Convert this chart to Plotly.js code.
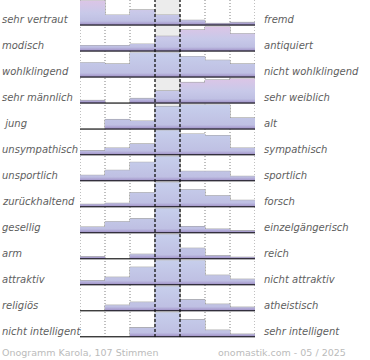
<!DOCTYPE html>
<html>
<head>
<meta charset="utf-8">
<script src="https://cdn.plot.ly/plotly-3.0.1.min.js"></script>
<style>html,body{margin:0;padding:0;background:#fff}#chart{width:370px;height:360px}</style>
</head>
<body>
<div id="chart"></div>
<script>
// Left / right poles of each semantic differential row
const leftLabels = ["sehr vertraut","modisch","wohlklingend","sehr männlich","\u00a0jung","unsympathisch","unsportlich","zurückhaltend","gesellig","arm","attraktiv","religiös","nicht intelligent"];
const rightLabels = ["fremd","antiquiert","nicht wohlklingend","sehr weiblich","alt","sympathisch","sportlich","forsch","einzelgängerisch","reich","nicht attraktiv","atheistisch","sehr intelligent"];
// Vote distribution over the 7 scale steps (relative heights)
const row01 = [24, 10, 15, 10, 5, 2, 3];
const row02 = [6, 6, 7.5, 15.5, 22, 25.5, 18];
const row03 = [14, 13, 24, 24, 20, 16.5, 13];
const row04 = [3, 0, 5, 12.5, 21, 23.5, 25];
const row05 = [0, 9.5, 8, 22, 24, 24, 11];
const row06 = [4.5, 7, 11, 24, 20.5, 19, 7];
const row07 = [6, 11, 19, 25, 10, 10, 5];
const row08 = [3, 4, 14.5, 25, 17.5, 11.5, 7];
const row09 = [6, 11, 14, 24, 6.5, 4, 2.5];
const row10 = [2.5, 0, 5, 25, 11, 3.5, 2];
const row11 = [4.5, 8, 18, 25, 25, 10, 6];
const row12 = [0, 6, 9, 25, 11.5, 7, 4];
const row13 = [0, 0, 9.5, 25, 17.5, 7, 3];
const rows = [row01,row02,row03,row04,row05,row06,row07,row08,row09,row10,row11,row12,row13];
const pinkRows = [0, 1, 3];
const footerLeft = "Onogramm Karola, 107 Stimmen";
const footerRight = "onomastik.com - 05 / 2025";

const W = 370, H = 360;
const mL = 80, mR = 115, mT = 0, mB = 22;
const plotW = W - mL - mR, plotH = H - mT - mB;
const pitch = 25.97, firstBase = 25.5, rowH = 25;

const blueScale = [[0,'#8e80b8'],[0.07,'#a99ecf'],[0.18,'#bfc0e3'],[1,'#c7cfec']];
const pinkScale = [[0,'#8e80b8'],[0.07,'#a99ecf'],[0.18,'#bfc0e3'],[0.5,'#c8c9e9'],[1,'#dcc5e6']];

const traces = [];
const shapes = [];
const annotations = [];
const layout = {
  width: W, height: H,
  margin: {l: mL, r: mR, t: mT, b: mB, pad: 0},
  paper_bgcolor: '#fff', plot_bgcolor: 'rgba(0,0,0,0)',
  showlegend: false,
  font: {family: 'DejaVu Sans', size: 10, color: '#5e5e5e'},
  xaxis: {range: [0, 7], showgrid: false, zeroline: false, showticklabels: false, ticks: '', showline: false, fixedrange: true, anchor: 'y13'}
};

const steps = row01.map((_, i) => i);

rows.forEach((vals, r) => {
  const ax = r === 0 ? 'y' : 'y' + (r + 1);
  const axName = r === 0 ? 'yaxis' : 'yaxis' + (r + 1);
  const base = firstBase + pitch * r;
  const bottom = (plotH - base) / plotH;
  const top = Math.min(1, (plotH - (base - rowH)) / plotH);
  const mx = Math.max(...vals);
  layout[axName] = {domain: [bottom, top], range: [0, mx], visible: false, fixedrange: true, anchor: 'x'};
  // gradient step fill
  traces.push({
    type: 'scatter', mode: 'lines', xaxis: 'x', yaxis: ax,
    x: steps.concat([vals.length]),
    y: vals.concat([vals[vals.length - 1]]),
    line: {shape: 'hv', width: 0, color: 'rgba(0,0,0,0)'},
    fill: 'tozeroy',
    fillgradient: {type: 'vertical', start: 0, stop: mx, colorscale: pinkRows.includes(r) ? pinkScale : blueScale},
    hoverinfo: 'skip'
  });
  // bar outlines
  traces.push({
    type: 'bar', xaxis: 'x', yaxis: ax,
    x: steps.map(i => i + 0.5), y: vals, width: 1,
    marker: {color: 'rgba(0,0,0,0)', line: {color: '#9a9a9a', width: 1}},
    hoverinfo: 'skip'
  });
  // baseline
  shapes.push({type: 'line', xref: 'x', yref: ax, x0: 0, x1: 7, y0: 0, y1: 0, line: {color: '#111', width: 2}, layer: 'above'});
  const ty = (plotH - (base - 5.5)) / plotH;
  annotations.push({xref: 'paper', yref: 'paper', x: -mL / plotW, y: ty, xanchor: 'left', yanchor: 'middle', showarrow: false,
    text: leftLabels[r], font: {family: 'DejaVu Sans', size: 10, color: '#5e5e5e', style: 'italic'}});
  annotations.push({xref: 'paper', yref: 'paper', x: (262 - mL) / plotW, y: ty, xanchor: 'left', yanchor: 'middle', showarrow: false,
    text: rightLabels[r], font: {family: 'DejaVu Sans', size: 10, color: '#5e5e5e', style: 'italic'}});
});

// middle column background
shapes.unshift({type: 'rect', xref: 'x', yref: 'paper', x0: 3, x1: 4, y0: (plotH - 337) / plotH, y1: 1, fillcolor: '#ececec', line: {width: 0}, layer: 'below'});
// column separators
[0, 1, 2, 5, 6, 7].forEach(v => shapes.unshift({type: 'line', xref: 'x', yref: 'paper', x0: v, x1: v, y0: (plotH - 337) / plotH, y1: 1, line: {color: '#808080', width: 1, dash: '1px,2px'}, layer: 'below'}));
[3, 4].forEach(v => shapes.push({type: 'line', xref: 'x', yref: 'paper', x0: v, x1: v, y0: (plotH - 337) / plotH, y1: 1, line: {color: '#111', width: 1.3, dash: '3px,2px'}, layer: 'above'}));

annotations.push({xref: 'paper', yref: 'paper', x: -mL / plotW, y: (plotH - 352) / plotH, xanchor: 'left', yanchor: 'middle', showarrow: false,
  text: footerLeft, font: {family: 'DejaVu Sans', size: 9.5, color: '#bbbbbb'}});
annotations.push({xref: 'paper', yref: 'paper', x: (348 - mL) / plotW, y: (plotH - 352) / plotH, xanchor: 'right', yanchor: 'middle', showarrow: false,
  text: footerRight, font: {family: 'DejaVu Sans', size: 9.5, color: '#bbbbbb'}});

layout.shapes = shapes;
layout.annotations = annotations;
layout.bargap = 0;

Plotly.newPlot('chart', traces, layout, {staticPlot: true, displayModeBar: false});
</script>
</body>
</html>
